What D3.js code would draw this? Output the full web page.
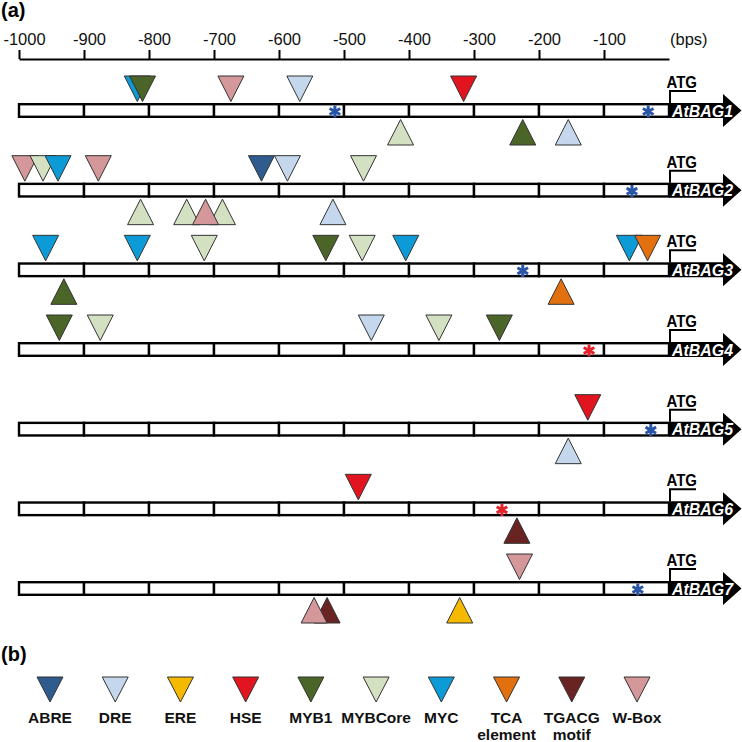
<!DOCTYPE html>
<html>
<head>
<meta charset="utf-8">
<script src="https://cdn.jsdelivr.net/npm/d3@7"></script>
<style>
  html, body { margin: 0; padding: 0; background: #fff; }
  svg { display: block; font-family: "Liberation Sans", Arial, sans-serif; }
</style>
</head>
<body>
<svg id="chart" width="742" height="742"></svg>
<script>
// ---------------- DATA ----------------
const categories = ["ABRE", "DRE", "ERE", "HSE", "MYB1", "MYBCore", "MYC", "TCA element", "TGACG motif", "W-Box"];
const legendLines = [["ABRE"], ["DRE"], ["ERE"], ["HSE"], ["MYB1"], ["MYBCore"], ["MYC"], ["TCA", "element"], ["TGACG", "motif"], ["W-Box"]];
const genes = ["AtBAG1", "AtBAG2", "AtBAG3", "AtBAG4", "AtBAG5", "AtBAG6", "AtBAG7"];
const tickValues = [-1000, -900, -800, -700, -600, -500, -400, -300, -200, -100];
const axisUnit = "(bps)";
const panelLabels = ["(a)", "(b)"];

// sites: [element, position (bp), side: "+" above strand, "-" below strand]
const sitesBAG1 = [["MYC", -818, "+"], ["MYB1", -810, "+"], ["W-Box", -674, "+"], ["DRE", -568, "+"], ["HSE", -316, "+"],
                   ["MYBCore", -413, "-"], ["MYB1", -225, "-"], ["DRE", -155, "-"]];
const sitesBAG2 = [["W-Box", -991, "+"], ["MYBCore", -963, "+"], ["MYC", -940, "+"], ["W-Box", -878, "+"], ["ABRE", -627, "+"],
                   ["DRE", -587, "+"], ["MYBCore", -470, "+"],
                   ["MYBCore", -813, "-"], ["MYBCore", -742, "-"], ["MYBCore", -687, "-"], ["W-Box", -713, "-"], ["DRE", -517, "-"]];
const sitesBAG3 = [["MYC", -959, "+"], ["MYC", -818, "+"], ["MYBCore", -715, "+"], ["MYB1", -528, "+"], ["MYBCore", -472, "+"],
                   ["MYC", -405, "+"], ["MYC", -61, "+"], ["TCA element", -33, "+"],
                   ["MYB1", -931, "-"], ["TCA element", -166, "-"]];
const sitesBAG4 = [["MYB1", -938, "+"], ["MYBCore", -875, "+"], ["DRE", -458, "+"], ["MYBCore", -354, "+"], ["MYB1", -261, "+"]];
const sitesBAG5 = [["HSE", -125, "+"], ["DRE", -155, "-"]];
const sitesBAG6 = [["HSE", -478, "+"], ["TGACG motif", -234, "-"]];
const sitesBAG7 = [["W-Box", -230, "+"], ["TGACG motif", -526, "-"], ["W-Box", -546, "-"], ["ERE", -322, "-"]];
const sitesByGene = [sitesBAG1, sitesBAG2, sitesBAG3, sitesBAG4, sitesBAG5, sitesBAG6, sitesBAG7];

// asterisk markers: [position (bp), marker kind]
const marksByGene = [[[-514, "blue"], [-32, "blue"]], [[-57, "blue"]], [[-225, "blue"]], [[-123, "red"]],
                     [[-28, "blue"]], [[-257, "red"]], [[-48, "blue"]]];

// ---------------- STYLE ----------------
const colorScale = d3.scaleOrdinal().domain(categories).range(
  ["#2f5b8f", "#c5d7ec", "#f5b900", "#e2141f", "#4b6428", "#d4e0c2", "#0d9bd8", "#e2700f", "#6a2323", "#d4979a"]);
const markColor = { blue: "#2a55a6", red: "#e3222b" };

const svg = d3.select("#chart");
const x = d3.scaleLinear().domain([-1000, 0]).range([19, 669]);
const y = d3.scalePoint().domain(genes).range([110.5, 588.5]);
const barH = 15, triW = 26, triH = 25.5;

// panel labels
svg.append("text").attr("x", 1).attr("y", 17).attr("font-size", 20).attr("font-weight", "bold").text(panelLabels[0]);
svg.append("text").attr("x", 1).attr("y", 661).attr("font-size", 20).attr("font-weight", "bold").text(panelLabels[1]);

// axis
const axisG = svg.append("g").attr("transform", "translate(0,59)")
  .call(d3.axisTop(x).tickValues(tickValues).tickSize(9).tickSizeOuter(0).tickPadding(5).tickFormat(d => String(d)));
axisG.select(".domain").attr("stroke", "#000").attr("stroke-width", 2);
axisG.selectAll(".tick line").attr("stroke", "#000").attr("stroke-width", 2);
axisG.selectAll(".tick text").attr("font-size", 16.5).attr("fill", "#111").attr("dx", 5)
  .attr("font-family", "'Liberation Sans', Arial, sans-serif");
svg.append("text").attr("x", 670).attr("y", 45).attr("font-size", 16.5).attr("fill", "#111").text(axisUnit);

// genes
genes.forEach((g, gi) => {
  const cy = y(g);
  const T = cy - barH / 2, B = cy + barH / 2;
  const row = svg.append("g");
  // cells
  const cells = d3.range(-1000, 0, 100);
  row.selectAll("rect.cell").data(cells).join("rect")
    .attr("x", d => x(d)).attr("y", T + 1.2)
    .attr("width", d => x(d + 100) - x(d)).attr("height", barH - 2.4)
    .attr("fill", "#fff").attr("stroke", "#000").attr("stroke-width", 2.4);
  // arrow
  const x0 = x(0), hx = 723, tip = 741.5, hh = 16.5;
  row.append("path")
    .attr("d", `M${x0},${T}L${hx},${T}L${hx},${cy - hh}L${tip},${cy}L${hx},${cy + hh}L${hx},${B}L${x0},${B}Z`)
    .attr("fill", "#000");
  row.append("text").attr("x", 672).attr("y", T + 13.8).attr("font-size", 16.5)
    .attr("font-weight", "bold").attr("font-style", "italic").attr("fill", "#fff")
    .attr("textLength", 61).attr("lengthAdjust", "spacingAndGlyphs").text(g);
  // ATG bracket
  row.append("path").attr("d", `M${x0 + 1},${T}L${x0 + 1},${T - 12}L${x0 + 27},${T - 12}`)
    .attr("fill", "none").attr("stroke", "#000").attr("stroke-width", 2);
  row.append("text").attr("x", 666.5).attr("y", T - 15).attr("font-size", 16).attr("font-weight", "bold")
    .attr("textLength", 30.5).attr("lengthAdjust", "spacingAndGlyphs").text("ATG");
  // asterisks
  row.selectAll("path.mark").data(marksByGene[gi]).join("path")
    .attr("transform", d => `translate(${x(d[0])},${cy + 1})`)
    .attr("d", d3.symbol(d3.symbolAsterisk, 105)())
    .attr("fill", "none").attr("stroke", d => markColor[d[1]]).attr("stroke-width", 3);
  // triangles
  row.selectAll("path.site").data(sitesByGene[gi]).join("path")
    .attr("d", d => {
      const px = x(d[1]);
      if (d[2] === "+") {
        return `M${px - triW / 2},${T - 1.5 - triH}L${px + triW / 2},${T - 1.5 - triH}L${px},${T - 1.5}Z`;
      }
      return `M${px - triW / 2},${B + 1.5 + triH}L${px + triW / 2},${B + 1.5 + triH}L${px},${B + 1.5}Z`;
    })
    .attr("fill", d => colorScale(d[0])).attr("stroke", "#333").attr("stroke-width", 1);
});

// legend
const lx = d3.scalePoint().domain(categories).range([50, 637]);
const leg = svg.append("g");
leg.selectAll("path").data(categories).join("path")
  .attr("d", d => { const px = lx(d); return `M${px - triW / 2},677L${px + triW / 2},677L${px},702Z`; })
  .attr("fill", d => colorScale(d)).attr("stroke", "#333").attr("stroke-width", 1);
leg.selectAll("text").data(categories).join("text")
  .attr("x", d => lx(d)).attr("y", 722.5).attr("text-anchor", "middle")
  .attr("font-size", 15.5).attr("font-weight", "bold").attr("fill", "#111")
  .each(function (d, i) {
    const t = d3.select(this);
    legendLines[i].forEach((ln, k) => {
      t.append("tspan").attr("x", lx(d)).attr("dy", k === 0 ? 0 : 17).text(ln);
    });
  });
</script>
</body>
</html>
